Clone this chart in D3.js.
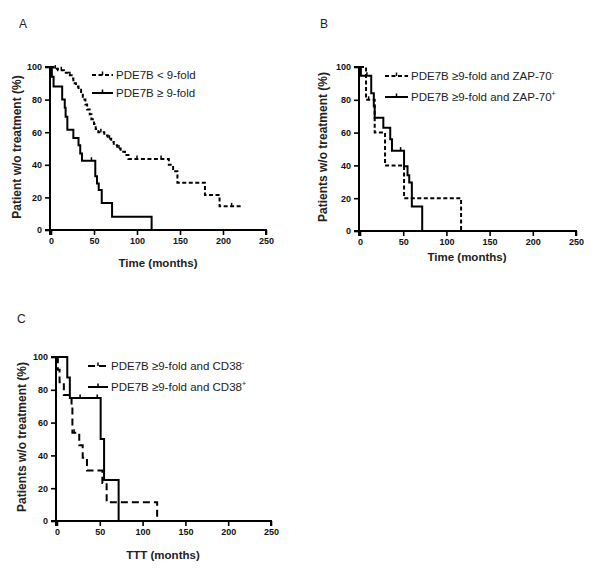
<!DOCTYPE html>
<html><head><meta charset="utf-8">
<script src="https://cdn.jsdelivr.net/npm/d3@7/dist/d3.min.js"></script>
<style>body{margin:0;background:#fff}svg{display:block}text{font-family:"Liberation Sans",Arial,sans-serif}</style>
</head><body>
<svg id="c" width="601" height="579"></svg>
<script>
// ---- data ----
const xTicks = [0, 50, 100, 150, 200, 250];
const yTicks = [0, 20, 40, 60, 80, 100];

// Panel A
const aLowT = [0, 3, 8, 15, 20, 24, 26, 29, 32, 35, 37, 40, 42, 45, 47, 50, 52, 55, 62, 66, 70, 73, 77, 81, 86, 90, 137, 142, 147, 179, 196, 222];
const aLowS = [100, 99, 98, 96.5, 95, 93, 90, 88, 86, 83, 80, 77, 74, 71, 68, 65, 62, 60, 58, 56, 54, 52, 50, 48, 46, 43.5, 40, 36, 29, 21.5, 14.5, 14.5];
const aLowCensor = [5, 12, 22, 58, 68, 79, 100, 128, 210];
const aHighT = [0, 1, 3, 13, 16, 17, 19, 26, 32, 34, 36, 51.5, 53.5, 55.5, 59, 71, 117];
const aHighS = [100, 94, 88, 80, 75, 69.5, 61.5, 56.5, 52, 47, 42.5, 33, 28.5, 24.5, 16.5, 8.2, 0];
const aHighCensor = [47];

// Panel B
const bNegT = [0, 7, 17, 29, 51, 117];
const bNegS = [100, 80, 60, 40, 20, 0];
const bNegCensor = [10];
const bPosT = [0, 1, 13, 16, 17, 27, 35, 37, 51, 55, 57, 60, 72];
const bPosS = [100, 94.7, 84, 76, 69, 63, 56, 49, 39.5, 34, 29.5, 15, 0];
const bPosCensor = [8, 47];

// Panel C
const cNegT = [0, 1, 3, 8, 17, 18, 26, 30, 35, 53, 58, 117];
const cNegS = [100, 92.3, 84.6, 76.9, 69.2, 53.8, 46.2, 38.5, 30.8, 23.1, 11.5, 0];
const cNegCensor = [20];
const cPosT = [0, 12, 15, 51, 55, 72];
const cPosS = [100, 87.5, 75, 50, 25, 0];
const cPosCensor = [27, 47];

// ---- drawing ----
const svg = d3.select("#c");

function panel(cfg) {
  const x = d3.scaleLinear().domain([0, 250]).range([cfg.x0, cfg.x1]);
  const y = d3.scaleLinear().domain([0, 100]).range([cfg.y0, cfg.y1]);
  const g = svg.append("g");

  const xa = g.append("g").attr("transform", `translate(0,${cfg.y0})`)
    .call(d3.axisBottom(x).tickValues(xTicks).tickSize(5).tickPadding(3).tickFormat(d3.format("d")));
  const ya = g.append("g").attr("transform", `translate(${cfg.x0 - 1},0)`)
    .call(d3.axisLeft(y).tickValues(yTicks).tickSize(5).tickPadding(3).tickFormat(d3.format("d")));
  [xa, ya].forEach(a => {
    a.select(".domain").attr("stroke", "#000").attr("stroke-width", 2);
    a.selectAll(".tick line").attr("stroke", "#000").attr("stroke-width", 1.6);
    a.selectAll(".tick text").attr("font-size", 9).attr("font-weight", "bold").attr("fill", "#111")
      .attr("font-family", '"Liberation Sans",Arial,sans-serif');
  });
  ya.select(".domain").attr("d", `M-5,${cfg.y0}H0V${cfg.y1}H-5`);
  xa.select(".domain").attr("d", `M${cfg.x0 - 1},5V0H${cfg.x1}V5`);

  const line = d3.line().x(d => x(d[0])).y(d => y(d[1])).curve(d3.curveStepAfter);

  cfg.series.forEach(s => {
    const pts = s.t.map((t, i) => [t, s.s[i]]);
    g.append("path").attr("d", line(pts)).attr("fill", "none").attr("stroke", "#000")
      .attr("stroke-width", 2).attr("stroke-dasharray", s.dash || null);
    // censor marks
    s.c.forEach(ct => {
      let lv = s.s[0];
      for (let i = 0; i < s.t.length; i++) if (s.t[i] <= ct) lv = s.s[i];
      g.append("line").attr("x1", x(ct)).attr("x2", x(ct)).attr("y1", y(lv)).attr("y2", y(lv) - 3.5)
        .attr("stroke", "#000").attr("stroke-width", 1.5);
    });
  });

  // legend
  cfg.legend.forEach((L, i) => {
    const ly = cfg.ly[i];
    g.append("line").attr("x1", cfg.lx0).attr("x2", cfg.lx1).attr("y1", ly).attr("y2", ly)
      .attr("stroke", "#000").attr("stroke-width", 2).attr("stroke-dasharray", cfg.series[i].dash || null);
    const mx = (cfg.lx0 + cfg.lx1) / 2;
    g.append("line").attr("x1", mx).attr("x2", mx).attr("y1", ly).attr("y2", ly - 3.5)
      .attr("stroke", "#000").attr("stroke-width", 1.5);
    const t = g.append("text").attr("x", cfg.lx1 + 3).attr("y", ly + 4).attr("font-size", 11.5).attr("fill", "#222");
    t.append("tspan").text(L[0]);
    if (L[1]) t.append("tspan").attr("font-size", 7).attr("dy", -5).text(L[1]);
  });

  // titles
  g.append("text").attr("x", cfg.xt[0]).attr("y", cfg.xt[1]).attr("text-anchor", "middle")
    .attr("font-size", 11.5).attr("font-weight", "bold").attr("fill", "#222").text(cfg.xlabel);
  g.append("text").attr("transform", `translate(${cfg.yt[0]},${cfg.yt[1]}) rotate(-90)`).attr("text-anchor", "middle")
    .attr("font-size", 12).attr("font-weight", "bold").attr("fill", "#222").text(cfg.ylabel);
  g.append("text").attr("x", cfg.pl[0]).attr("y", cfg.pl[1]).attr("font-size", 12).attr("fill", "#222").text(cfg.letter);
}

panel({
  x0: 51, x1: 266, y0: 230, y1: 67,
  series: [
    { t: aLowT, s: aLowS, c: aLowCensor, dash: "4,2.5" },
    { t: aHighT, s: aHighS, c: aHighCensor }
  ],
  legend: [["PDE7B < 9-fold"], ["PDE7B \u2265 9-fold"]],
  lx0: 92, lx1: 113, ly: [75, 93],
  xt: [158, 267], yt: [21, 147], pl: [19, 28],
  xlabel: "Time (months)", ylabel: "Patient w/o treatment (%)", letter: "A"
});

panel({
  x0: 360, x1: 576, y0: 231, y1: 67,
  series: [
    { t: bNegT, s: bNegS, c: bNegCensor, dash: "4,2.5" },
    { t: bPosT, s: bPosS, c: bPosCensor }
  ],
  legend: [["PDE7B \u22659-fold and ZAP-70", "-"], ["PDE7B \u22659-fold and ZAP-70", "+"]],
  lx0: 385, lx1: 408, ly: [76, 97],
  xt: [467, 261], yt: [327, 147], pl: [320, 28],
  xlabel: "Time (months)", ylabel: "Patients w/o treatment (%)", letter: "B"
});

panel({
  x0: 57, x1: 271, y0: 521, y1: 357,
  series: [
    { t: cNegT, s: cNegS, c: cNegCensor, dash: "7,4" },
    { t: cPosT, s: cPosS, c: cPosCensor }
  ],
  legend: [["PDE7B \u22659-fold and CD38", "-"], ["PDE7B \u22659-fold and CD38", "+"]],
  lx0: 88, lx1: 108, ly: [366, 387],
  xt: [163, 559], yt: [26, 437], pl: [17, 323],
  xlabel: "TTT (months)", ylabel: "Patients w/o treatment (%)", letter: "C"
});
</script>
</body></html>
